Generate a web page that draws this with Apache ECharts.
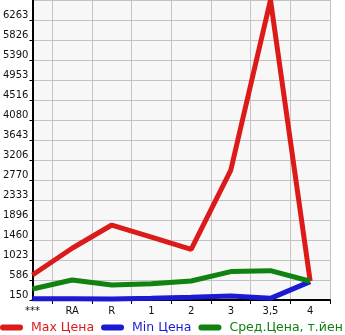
<!DOCTYPE html>
<html>
<head>
<meta charset="utf-8">
<script src="https://cdn.jsdelivr.net/npm/echarts@6/dist/echarts.min.js"></script>
<style>
html,body{margin:0;padding:0;background:#fff;}
#c{width:345px;height:335px;}
</style>
</head>
<body>
<div id="c"></div>
<script>
var categories = ['***', 'RA', 'R', '1', '2', '3', '3,5', '4'];
var maxPrice = [696, 1280, 1787, 1525, 1257, 2988, 6700, 560];
var minPrice = [175, 175, 172, 186, 208, 237, 186, 550];
var avgPrice = [390, 587, 477, 506, 565, 770, 791, 560];
var yTickLabels = ['150', '586', '1023', '1460', '1896', '2333', '2770', '3206', '3643', '4080', '4516', '4953', '5390', '5826', '6263'];
var seriesNames = ['Max Цена', 'Min Цена', 'Сред.Цена, т.йен'];
var colors = ['#dd1a1a', '#1a1ad2', '#0f820f'];

var yMin = 150, yStep = 1310 / 3, yMax = 6700;

function pairs(arr) { return arr.map(function (v, i) { return [i, v]; }); }

var chart = echarts.init(document.getElementById('c'), null, { renderer: 'canvas' });
var font = 'DejaVu Sans';
var catPos = categories.map(function (c, i) { return i; });
var tickPos = categories.map(function (c, i) { return i + 0.5; });

chart.setOption({
  animation: false,
  backgroundColor: '#ffffff',
  grid: { left: 31, right: 15, top: 0, bottom: 35, show: true, backgroundColor: '#f7f7f7', borderWidth: 0 },
  legend: {
    left: 0, bottom: 0, padding: 0, itemGap: 7, itemWidth: 23, itemHeight: 6,
    icon: 'path://M3,0 H20 A3,3 0 0 1 20,6 H3 A3,3 0 0 1 3,0 Z',
    textStyle: { fontFamily: font, fontSize: 12.5, padding: [0, 0, 0, 3], lineHeight: 15 },
    data: seriesNames.map(function (n, i) { return { name: n, textStyle: { color: colors[i] } }; })
  },
  xAxis: {
    type: 'value', min: 0, max: 7.5, interval: 0.5,
    axisLine: { show: true, onZero: false, lineStyle: { color: '#000', width: 2 } },
    axisTick: { show: true, customValues: tickPos, length: 4, lineStyle: { color: '#000', width: 1 } },
    axisLabel: {
      customValues: catPos, margin: 6, color: '#111', fontFamily: font, fontSize: 10,
      formatter: function (v) { var i = Math.round(v); return categories[i] !== undefined ? categories[i] : ''; }
    },
    splitLine: { show: true, lineStyle: { color: '#c3c3c3', width: 1 } }
  },
  yAxis: {
    type: 'value', min: yMin, max: yMax, interval: yStep,
    axisLine: { show: true, lineStyle: { color: '#000', width: 2 } },
    axisTick: { show: true, length: 3, lineStyle: { color: '#000', width: 1 } },
    axisLabel: {
      showMaxLabel: false, margin: 4, color: '#111', fontFamily: font, fontSize: 10,
      verticalAlign: 'bottom', lineHeight: 9,
      formatter: function (v) { var i = Math.round((v - yMin) / yStep); return yTickLabels[i] !== undefined ? yTickLabels[i] : ''; }
    },
    splitLine: { show: true, lineStyle: { color: '#c3c3c3', width: 1 } }
  },
  series: [
    { name: seriesNames[0], type: 'line', data: pairs(maxPrice), showSymbol: false, symbol: 'none', lineStyle: { width: 5, color: colors[0] }, itemStyle: { color: colors[0] }, z: 3 },
    { name: seriesNames[1], type: 'line', data: pairs(minPrice), showSymbol: false, symbol: 'none', lineStyle: { width: 5, color: colors[1] }, itemStyle: { color: colors[1] }, z: 4 },
    { name: seriesNames[2], type: 'line', data: pairs(avgPrice), showSymbol: false, symbol: 'none', lineStyle: { width: 5, color: colors[2] }, itemStyle: { color: colors[2] }, z: 5 }
  ]
});
</script>
</body>
</html>
